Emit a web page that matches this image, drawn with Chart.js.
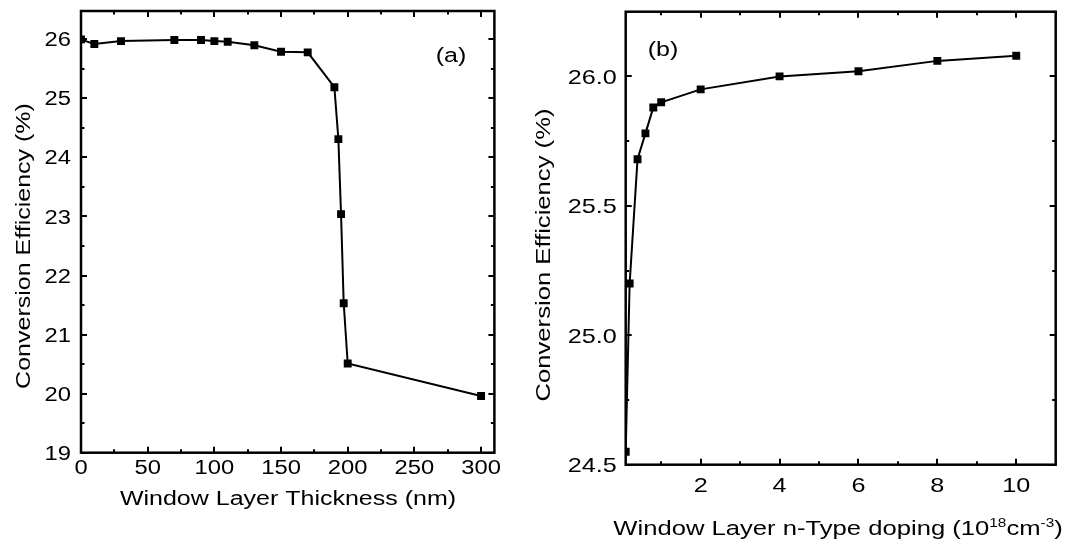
<!DOCTYPE html>
<html>
<head>
<meta charset="utf-8">
<script src="https://cdn.jsdelivr.net/npm/chart.js@4"></script>
<style>
  html, body { margin: 0; padding: 0; background: #fff; }
  #wrap { position: relative; width: 1071px; height: 546px; overflow: hidden; }
  canvas { position: absolute; top: 0; }
  #chartA { left: 0; }
  #chartB { left: 520px; }
</style>
</head>
<body>
<div id="wrap">
  <canvas id="chartA" width="500" height="546"></canvas>
  <canvas id="chartB" width="551" height="546"></canvas>
</div>
<script>
// (a) efficiency against window layer thickness
const thickness = [0, 10, 30, 70, 90, 100, 110, 130, 150, 170, 190, 193, 195, 197, 200, 300];
const effThick = [26.0, 25.92, 25.97, 25.99, 25.99, 25.97, 25.96, 25.90, 25.79, 25.78, 25.19, 24.31, 23.04, 21.53, 20.51, 19.96];

// (b) efficiency against window layer n-type doping (1e18 cm^-3)
const doping = [0.1, 0.2, 0.4, 0.6, 0.8, 1, 2, 4, 6, 8, 10];
const effDoping = [24.55, 25.2, 25.68, 25.78, 25.88, 25.9, 25.95, 26.0, 26.02, 26.06, 26.08];

// labelled ticks
const thickTicks = [0, 50, 100, 150, 200, 250, 300];
const thickEffTicks = [19, 20, 21, 22, 23, 24, 25, 26];
const dopingTicks = [2, 4, 6, 8, 10];
const dopingEffTicks = [24.5, 25.0, 25.5, 26.0];

const FONT = '"Liberation Sans", Arial, Helvetica, sans-serif';

// text drawn wider than the font's normal width
function wideText(ctx, str, x, y, size, sx, align, rot) {
  ctx.save();
  ctx.translate(x, y);
  if (rot) ctx.rotate(-Math.PI / 2);
  ctx.scale(sx, 1);
  ctx.font = size + 'px ' + FONT;
  ctx.textAlign = align;
  ctx.textBaseline = 'alphabetic';
  ctx.fillStyle = '#000';
  ctx.fillText(str, 0, 0);
  ctx.restore();
}

function textWidth(ctx, str, size, sx) {
  ctx.save();
  ctx.font = size + 'px ' + FONT;
  const w = ctx.measureText(str).width * sx;
  ctx.restore();
  return w;
}

// box, inward ticks on all four sides, tick labels, titles
const frame = {
  id: 'frame',
  afterDatasetsDraw(chart, args, o) {
    const ctx = chart.ctx, a = chart.chartArea;
    const xs = chart.scales.x, ys = chart.scales.y;
    ctx.save();
    ctx.strokeStyle = '#000';
    ctx.lineWidth = 2;
    ctx.beginPath();
    for (let v = Math.ceil(xs.min / o.xStep - 1e-9) * o.xStep; v <= xs.max + 1e-9; v += o.xStep) {
      const px = Math.round(xs.getPixelForValue(v));
      const len = o.xMajor.some(m => Math.abs(m - v) < 1e-6) ? 6 : 3.5;
      ctx.moveTo(px, a.bottom); ctx.lineTo(px, a.bottom - len);
      ctx.moveTo(px, a.top); ctx.lineTo(px, a.top + len);
    }
    for (let v = Math.ceil(ys.min / o.yStep - 1e-9) * o.yStep; v <= ys.max + 1e-9; v += o.yStep) {
      const py = Math.round(ys.getPixelForValue(v));
      const len = o.yMajor.some(m => Math.abs(m - v) < 1e-6) ? 6 : 3.5;
      ctx.moveTo(a.left, py); ctx.lineTo(a.left + len, py);
      ctx.moveTo(a.right, py); ctx.lineTo(a.right - len, py);
    }
    ctx.stroke();
    ctx.lineWidth = 2.5;
    ctx.strokeRect(a.left, a.top, a.right - a.left, a.bottom - a.top);

    const ts = o.tickSize;
    o.xMajor.forEach(v => {
      wideText(ctx, String(v), xs.getPixelForValue(v), a.bottom + o.xLabelGap, ts[0], ts[1], 'center');
    });
    o.yMajor.forEach(v => {
      wideText(ctx, v.toFixed(o.yDigits), a.left - o.yLabelGap, ys.getPixelForValue(v) + ts[0] * 0.36, ts[0], ts[1], 'right');
    });

    // y title
    wideText(ctx, 'Conversion Efficiency (%)', o.yTitle[0], o.yTitle[1], o.titleSize, 1.25, 'center', true);

    // x title, pieces may be superscript
    let total = 0;
    o.xTitle.forEach(p => { total += textWidth(ctx, p[0], p[1] ? o.titleSize * 0.6 : o.titleSize, 1.25); });
    let x = o.xTitlePos[0] - total / 2;
    o.xTitle.forEach(p => {
      const size = p[1] ? o.titleSize * 0.6 : o.titleSize;
      wideText(ctx, p[0], x, o.xTitlePos[1] - (p[1] ? 8.5 : 0), size, 1.25, 'left');
      x += textWidth(ctx, p[0], size, 1.25);
    });

    wideText(ctx, o.letter, o.letterPos[0], o.letterPos[1], 20, 1.25, 'center');
    ctx.restore();
  }
};

function makeChart(id, xv, yv, pad, xr, yr, frameOpts) {
  return new Chart(document.getElementById(id), {
    type: 'line',
    data: {
      datasets: [{
        data: xv.map((x, i) => ({ x: x, y: yv[i] })),
        borderColor: '#000',
        borderWidth: 2,
        pointStyle: 'rect',
        pointRadius: 5.6,
        pointBackgroundColor: '#000',
        pointBorderWidth: 0,
        tension: 0,
        clip: 0
      }]
    },
    options: {
      responsive: false,
      animation: false,
      devicePixelRatio: 1,
      layout: { padding: pad },
      scales: {
        x: { type: 'linear', min: xr[0], max: xr[1], display: false },
        y: { type: 'linear', min: yr[0], max: yr[1], display: false }
      },
      plugins: {
        legend: { display: false },
        tooltip: { enabled: false },
        frame: frameOpts
      }
    },
    plugins: [frame]
  });
}

makeChart('chartA', thickness, effThick,
  { left: 81, top: 11, right: 1, bottom: 93.3 },
  [0, 310], [19, 26.48],
  {
    xStep: 25, yStep: 0.5, xMajor: thickTicks, yMajor: thickEffTicks, yDigits: 0,
    tickSize: [19.5, 1.22], xLabelGap: 21, yLabelGap: 10, titleSize: 20,
    yTitle: [30, 246],
    xTitle: [['Window Layer Thickness (nm)', false]],
    xTitlePos: [288, 505],
    letter: '(a)', letterPos: [451, 62]
  });

makeChart('chartB', doping, effDoping,
  { left: 105.7, top: 11.7, right: 15.3, bottom: 81.3 },
  [0.1, 11], [24.5, 26.25],
  {
    xStep: 1, yStep: 0.25, xMajor: dopingTicks, yMajor: dopingEffTicks, yDigits: 1,
    tickSize: [21, 1.2], xLabelGap: 27, yLabelGap: 9, titleSize: 20.5,
    yTitle: [30, 255],
    xTitle: [['Window Layer n-Type doping (10', false], ['18', true], ['cm', false], ['-3', true], [')', false]],
    xTitlePos: [318, 535],
    letter: '(b)', letterPos: [143, 56]
  });
</script>
</body>
</html>
